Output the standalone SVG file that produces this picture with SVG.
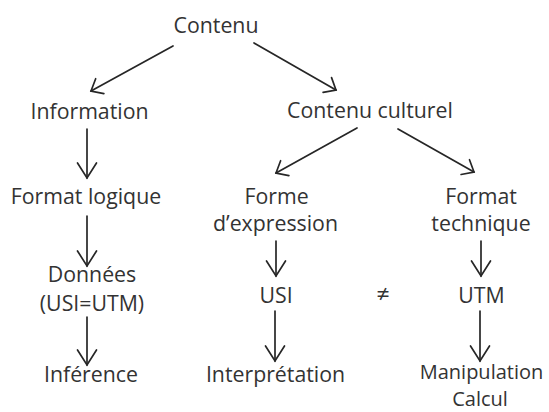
<svg xmlns="http://www.w3.org/2000/svg" width="549" height="412" viewBox="0 0 549 412">
  <style>
    text { font-family: "Open Sans", "Noto Sans", "DejaVu Sans", sans-serif; font-size: 21.3px; fill: #333; text-anchor: middle; }
    .sm { font-size: 20px; }
    .c { fill: none; stroke: #262626; stroke-width: 1.7; stroke-linecap: round; }
    .h { fill: none; stroke: #262626; stroke-width: 1.7; stroke-linecap: round; stroke-linejoin: miter; }
  </style>
  <defs>
    <marker id="hd" markerUnits="userSpaceOnUse" viewBox="-14 -12 16 24" markerWidth="16" markerHeight="24" refX="0" refY="0" orient="auto">
      <path class="h" d="M-10,-8.5 L0,0 L-10,8.5"/>
    </marker>
    <marker id="hv" markerUnits="userSpaceOnUse" viewBox="-18 -12 20 24" markerWidth="20" markerHeight="24" refX="0" refY="0" orient="auto">
      <path class="h" d="M-15,-9.5 L0,0 L-15,9.5"/>
    </marker>
  </defs>
  <rect width="549" height="412" fill="#fff"/>
  <g id="connectors">
    <line class="c" x1="173" y1="46" x2="91" y2="91" marker-end="url(#hd)"/>
    <line class="c" x1="254" y1="43" x2="336" y2="90" marker-end="url(#hd)"/>
    <line class="c" x1="357" y1="128" x2="276" y2="173" marker-end="url(#hd)"/>
    <line class="c" x1="398" y1="129" x2="474" y2="172" marker-end="url(#hd)"/>
    <line class="c" x1="87" y1="129" x2="87" y2="178" marker-end="url(#hv)"/>
    <line class="c" x1="87" y1="216" x2="87" y2="266" marker-end="url(#hv)"/>
    <line class="c" x1="87" y1="317" x2="87" y2="365" marker-end="url(#hv)"/>
    <line class="c" x1="276" y1="241" x2="276" y2="276" marker-end="url(#hv)"/>
    <line class="c" x1="275" y1="311" x2="275" y2="361" marker-end="url(#hv)"/>
    <line class="c" x1="481" y1="241" x2="481" y2="276" marker-end="url(#hv)"/>
    <line class="c" x1="480" y1="311" x2="480" y2="361" marker-end="url(#hv)"/>
  </g>
  <g id="contenu"><text x="216" y="33">Contenu</text></g>
  <g id="information"><text x="89.5" y="119">Information</text></g>
  <g id="contenu-culturel"><text x="370" y="118">Contenu culturel</text></g>
  <g id="format-logique"><text x="86" y="204">Format logique</text></g>
  <g id="forme-expression"><text x="276.5" y="204">Forme</text><text x="275.5" y="231">d’expression</text></g>
  <g id="format-technique"><text x="481" y="204">Format</text><text x="481" y="231">technique</text></g>
  <g id="donnees"><text x="92" y="282">Données</text><text x="92" y="311">(USI=UTM)</text></g>
  <g id="usi"><text x="276" y="303">USI</text></g>
  <g id="neq"><text x="383" y="302" style="font-size:23px">≠</text></g>
  <g id="utm"><text x="481.5" y="303">UTM</text></g>
  <g id="inference"><text x="91" y="382">Inférence</text></g>
  <g id="interpretation"><text x="275.5" y="382">Interprétation</text></g>
  <g id="manipulation"><text class="sm" x="481.5" y="379">Manipulation</text><text class="sm" x="480" y="406">Calcul</text></g>
</svg>
